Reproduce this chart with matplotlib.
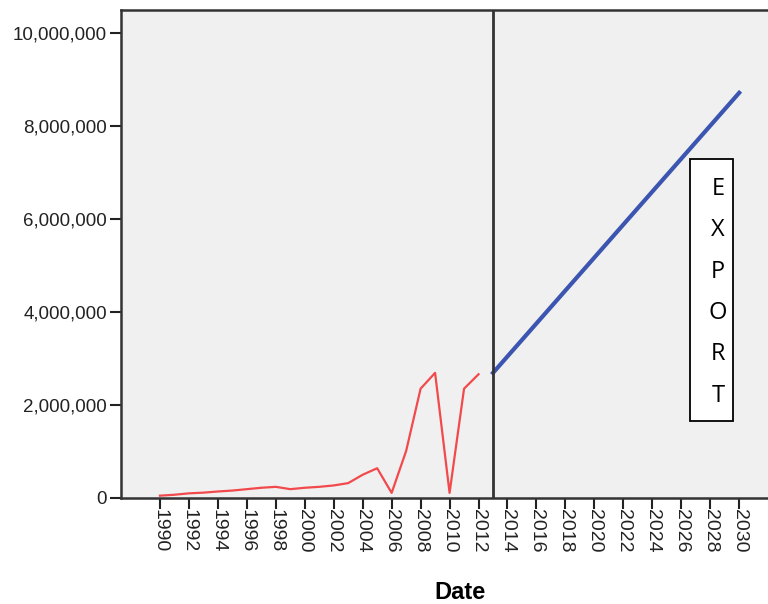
import matplotlib.pyplot as plt
from matplotlib.patches import Rectangle
from matplotlib.ticker import FuncFormatter

# --------------------------
# Data
# --------------------------
hist_years = list(range(1990, 2013))
hist_values = [50000, 70000, 100000, 115000, 140000, 160000, 190000, 220000,
               240000, 190000, 220000, 240000, 270000, 320000, 500000, 640000,
               110000, 1010000, 2350000, 2690000, 110000, 2350000, 2660000]

proj_years = [2013, 2030]
proj_values = [2690000, 8710000]

split_year = 2013
year_ticks = list(range(1990, 2031, 2))
y_ticks = [0, 2000000, 4000000, 6000000, 8000000, 10000000]
box_letters = ["E", "X", "P", "O", "R", "T"]

plt.rcParams['font.family'] = ['Liberation Sans', 'DejaVu Sans']

fig = plt.figure(figsize=(7.68, 6.04), dpi=100)
W, H = 768, 604
# axes runs past the right edge of the figure, like the cropped original
ax = fig.add_axes([121 / W, 106 / H, (800 - 121) / W, (498 - 10) / H])
ax.set_facecolor('#f0f0f0')

ax.plot(hist_years, hist_values, color='#f24a4c', lw=1.6)
ax.plot(proj_years, proj_values, color='#3b55b0', lw=3)
ax.axvline(split_year, color='#333333', lw=2)

ax.set_xlim(1987.31, 2034.2)
ax.set_ylim(0, 10490000)

ax.set_xticks(year_ticks)
ax.set_xticklabels([str(y) for y in year_ticks], rotation=270, fontsize=14)
ax.set_yticks(y_ticks)
ax.yaxis.set_major_formatter(FuncFormatter(lambda v, p: f"{int(v):,}"))
ax.tick_params(axis='y', labelsize=13.5, length=8, width=1.5, colors='#222222', pad=2)
ax.tick_params(axis='x', length=8, width=1.5, colors='#222222', pad=0)

for s in ['left', 'bottom', 'top']:
    ax.spines[s].set_linewidth(1.8)
    ax.spines[s].set_color('#333333')
ax.spines['right'].set_visible(False)

ax.set_xlabel('Date', fontsize=17, fontweight='bold', labelpad=20)

# EXPORT label box
fig.add_artist(Rectangle((690 / W, 1 - 421 / H), 43 / W, 262 / H,
                         transform=fig.transFigure, facecolor='white',
                         edgecolor='black', lw=1.3))
for i, ch in enumerate(box_letters):
    fig.text(718 / W, 1 - (189 + i * 41.3) / H, ch, fontsize=17,
             family='Open Sans', ha='center', va='center')

fig.savefig('out.png', dpi=100)
